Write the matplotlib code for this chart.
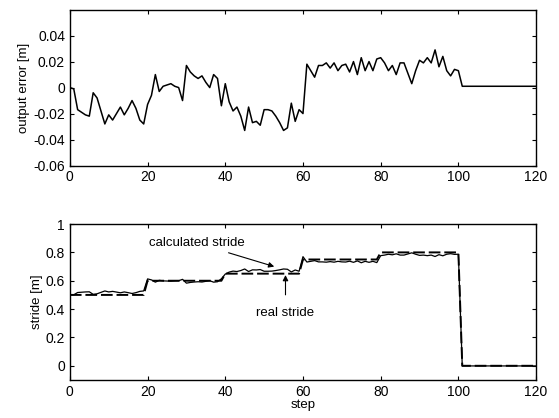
import matplotlib
matplotlib.use("Agg")
import matplotlib.pyplot as plt
import numpy as np

plt.rcParams['font.family'] = ['Liberation Sans', 'DejaVu Sans']

# ---- data ----
steps = list(range(0, 102)) + [120]
output_error = [
    0.000, -0.001, -0.017, -0.019, -0.021, -0.022, -0.004, -0.008, -0.018, -0.028,
    -0.021, -0.025, -0.020, -0.015, -0.021, -0.016, -0.010, -0.016, -0.025, -0.028,
    -0.013, -0.006, 0.010, -0.003, 0.001, 0.002, 0.003, 0.001, 0.000, -0.010,
    0.017, 0.012, 0.009, 0.007, 0.009, 0.004, 0.000, 0.010, 0.007, -0.014,
    0.003, -0.011, -0.018, -0.015, -0.022, -0.033, -0.015, -0.027, -0.026, -0.029,
    -0.017, -0.017, -0.018, -0.022, -0.027, -0.033, -0.031, -0.012, -0.026, -0.017,
    -0.020, 0.018, 0.013, 0.008, 0.017, 0.017, 0.019, 0.015, 0.019, 0.013,
    0.017, 0.018, 0.012, 0.020, 0.010, 0.023, 0.013, 0.020, 0.013, 0.022,
    0.023, 0.019, 0.013, 0.017, 0.010, 0.019, 0.019, 0.011, 0.003, 0.013,
    0.021, 0.019, 0.023, 0.019, 0.029, 0.016, 0.024, 0.013, 0.009, 0.014,
    0.013, 0.001, 0.001,
]
# real stride levels per step segment
stride_levels = [0.50, 0.60, 0.65, 0.75, 0.80, 0.0]
stride_starts = [0, 20, 40, 60, 80, 101]

real_stride = []
for s in steps:
    lvl = stride_levels[0]
    for st, lv in zip(stride_starts, stride_levels):
        if s >= st:
            lvl = lv
    real_stride.append(lvl)
calculated_stride = [r - e for r, e in zip(real_stride, output_error)]

xticks = [0, 20, 40, 60, 80, 100, 120]
xticklabels = ['0', '20', '40', '60', '80', '100', '120']
top_yticks = [-0.06, -0.04, -0.02, 0, 0.02, 0.04]
top_yticklabels = ['-0.06', '-0.04', '-0.02', '0', '0.02', '0.04']
bot_yticks = [0, 0.2, 0.4, 0.6, 0.8, 1.0]
bot_yticklabels = ['0', '0.2', '0.4', '0.6', '0.8', '1']

fig = plt.figure(figsize=(5.59, 4.18), dpi=100)
ax1 = fig.add_axes([0.125, 0.604, 0.834, 0.373])
ax2 = fig.add_axes([0.125, 0.091, 0.834, 0.373])

ax1.plot(steps, output_error, color='black', lw=1.1)
ax1.set_xlim(0, 120)
ax1.set_ylim(-0.06, 0.06)
ax1.set_yticks(top_yticks)
ax1.set_yticklabels(top_yticklabels)
ax1.set_ylabel('output error [m]', fontsize=9.5, labelpad=2)

ax2.plot(steps, real_stride, color='black', lw=1.4, linestyle=(0, (6, 2)))
ax2.plot(steps, calculated_stride, color='black', lw=0.9)
ax2.set_xlim(0, 120)
ax2.set_ylim(-0.1, 1.0)
ax2.set_yticks(bot_yticks)
ax2.set_yticklabels(bot_yticklabels)
ax2.set_ylabel('stride [m]', fontsize=9.5, labelpad=2)
ax2.set_xlabel('step', fontsize=9.5, labelpad=0)

ax2.annotate('calculated stride', xy=(52.6, 0.70), xytext=(45, 0.865),
             fontsize=9.5, ha='right', va='center',
             arrowprops=dict(arrowstyle='-|>', color='black', lw=0.8,
                             shrinkA=2, shrinkB=0, mutation_scale=8))
ax2.annotate('real stride', xy=(55.5, 0.64), xytext=(55.5, 0.37),
             fontsize=9.5, ha='center', va='center',
             arrowprops=dict(arrowstyle='-|>', color='black', lw=0.8,
                             shrinkA=7, shrinkB=0, mutation_scale=8))

for ax in (ax1, ax2):
    ax.set_xticks(xticks)
    ax.set_xticklabels(xticklabels)
    ax.tick_params(direction='in', top=True, right=True, labelsize=10, length=3)
    for sp in ax.spines.values():
        sp.set_linewidth(1.0)

fig.savefig('out.png', dpi=100)
